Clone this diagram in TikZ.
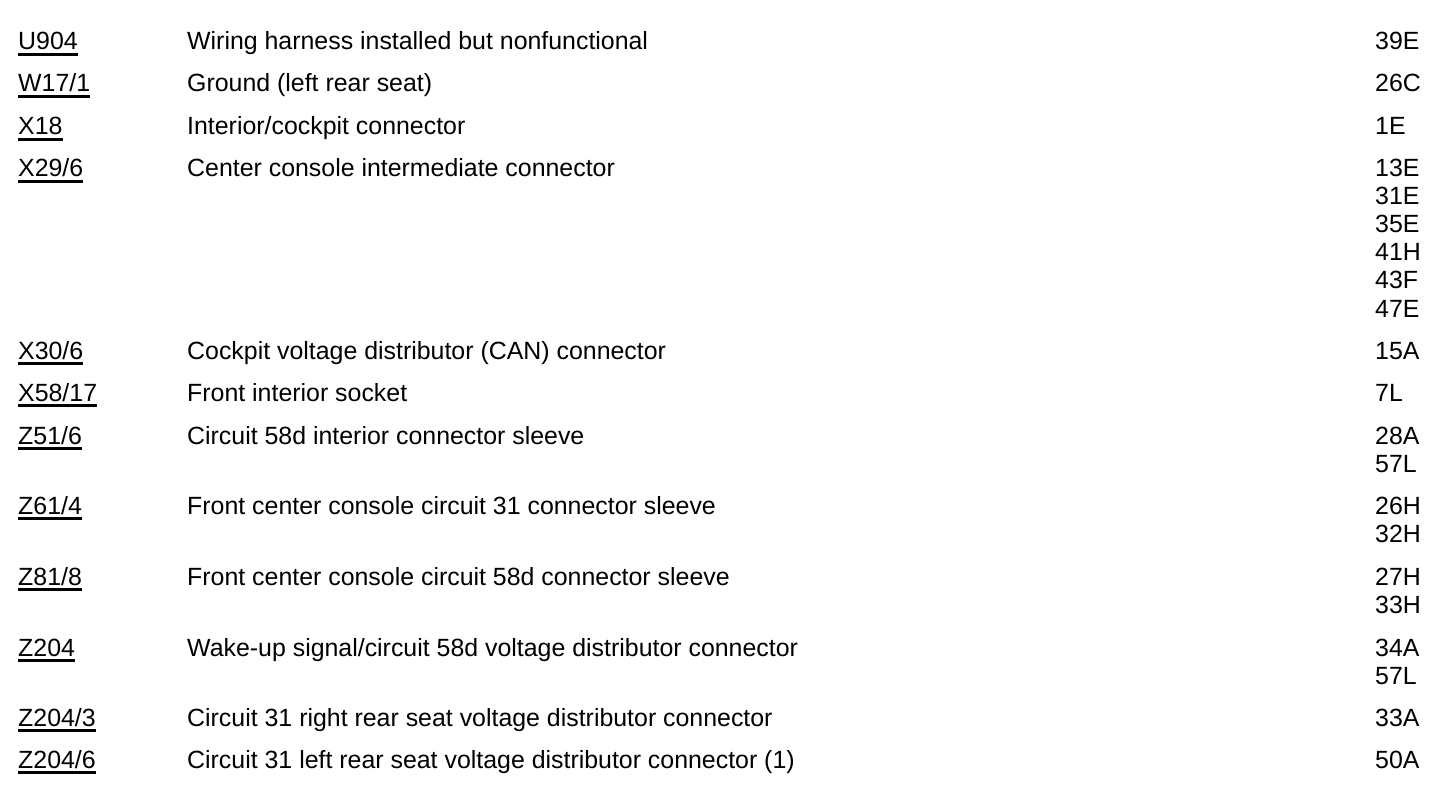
\documentclass[tikz,border=0pt]{standalone}
\usepackage{fontspec}
\setmainfont{Liberation Sans}
\begin{document}
\begin{tikzpicture}[x=1pt,y=-1pt,
  txt/.style={anchor=base west,inner sep=0pt,font=\fontsize{24.9}{28}\selectfont},
  ul/.style={line width=2.2pt}]
\useasboundingbox[fill=white] (0,0) rectangle (1456,810);
\newcommand\myrow[5]{%
  \node[txt] (#1) at (18,#2) {#3};
  \draw[ul] ([yshift=-4.5pt]#1.base west) -- ([yshift=-4.5pt]#1.base east);
  \node[txt] (#1d) at (187,#2) {#4};
  \node[txt,align=left] (#1r) at (1375,#2) {#5};
}
\myrow{a}{50}{U904}{Wiring harness installed but nonfunctional}{39E}
\myrow{b}{92}{W17/1\ }{Ground (left rear seat)}{26C}
\myrow{c}{135}{X18}{Interior/cockpit connector}{1E}
\myrow{d}{177}{X29/6}{Center console intermediate connector}{13E}
\node[txt] (d2) at (1375,205) {31E};
\node[txt] (d3) at (1375,233) {35E};
\node[txt] (d4) at (1375,261) {41H};
\node[txt] (d5) at (1375,289) {43F};
\node[txt] (d6) at (1375,317) {47E};
\myrow{e}{359}{X30/6}{Cockpit voltage distributor (CAN) connector}{15A}
\myrow{f}{401}{X58/17}{Front interior socket}{7L}
\myrow{g}{444}{Z51/6}{Circuit 58d interior connector sleeve}{28A}
\node[txt] (g2) at (1375,472) {57L};
\myrow{h}{514}{Z61/4}{Front center console circuit 31 connector sleeve}{26H}
\node[txt] (h2) at (1375,542) {32H};
\myrow{i}{585}{Z81/8}{Front center console circuit 58d connector sleeve}{27H}
\node[txt] (i2) at (1375,613) {33H};
\myrow{j}{656}{Z204}{Wake-up signal/circuit 58d voltage distributor connector}{34A}
\node[txt] (j2) at (1375,684) {57L};
\myrow{k}{726}{Z204/3}{Circuit 31 right rear seat voltage distributor connector}{33A}
\myrow{l}{768}{Z204/6}{Circuit 31 left rear seat voltage distributor connector (1)}{50A}
\end{tikzpicture}
\end{document}
